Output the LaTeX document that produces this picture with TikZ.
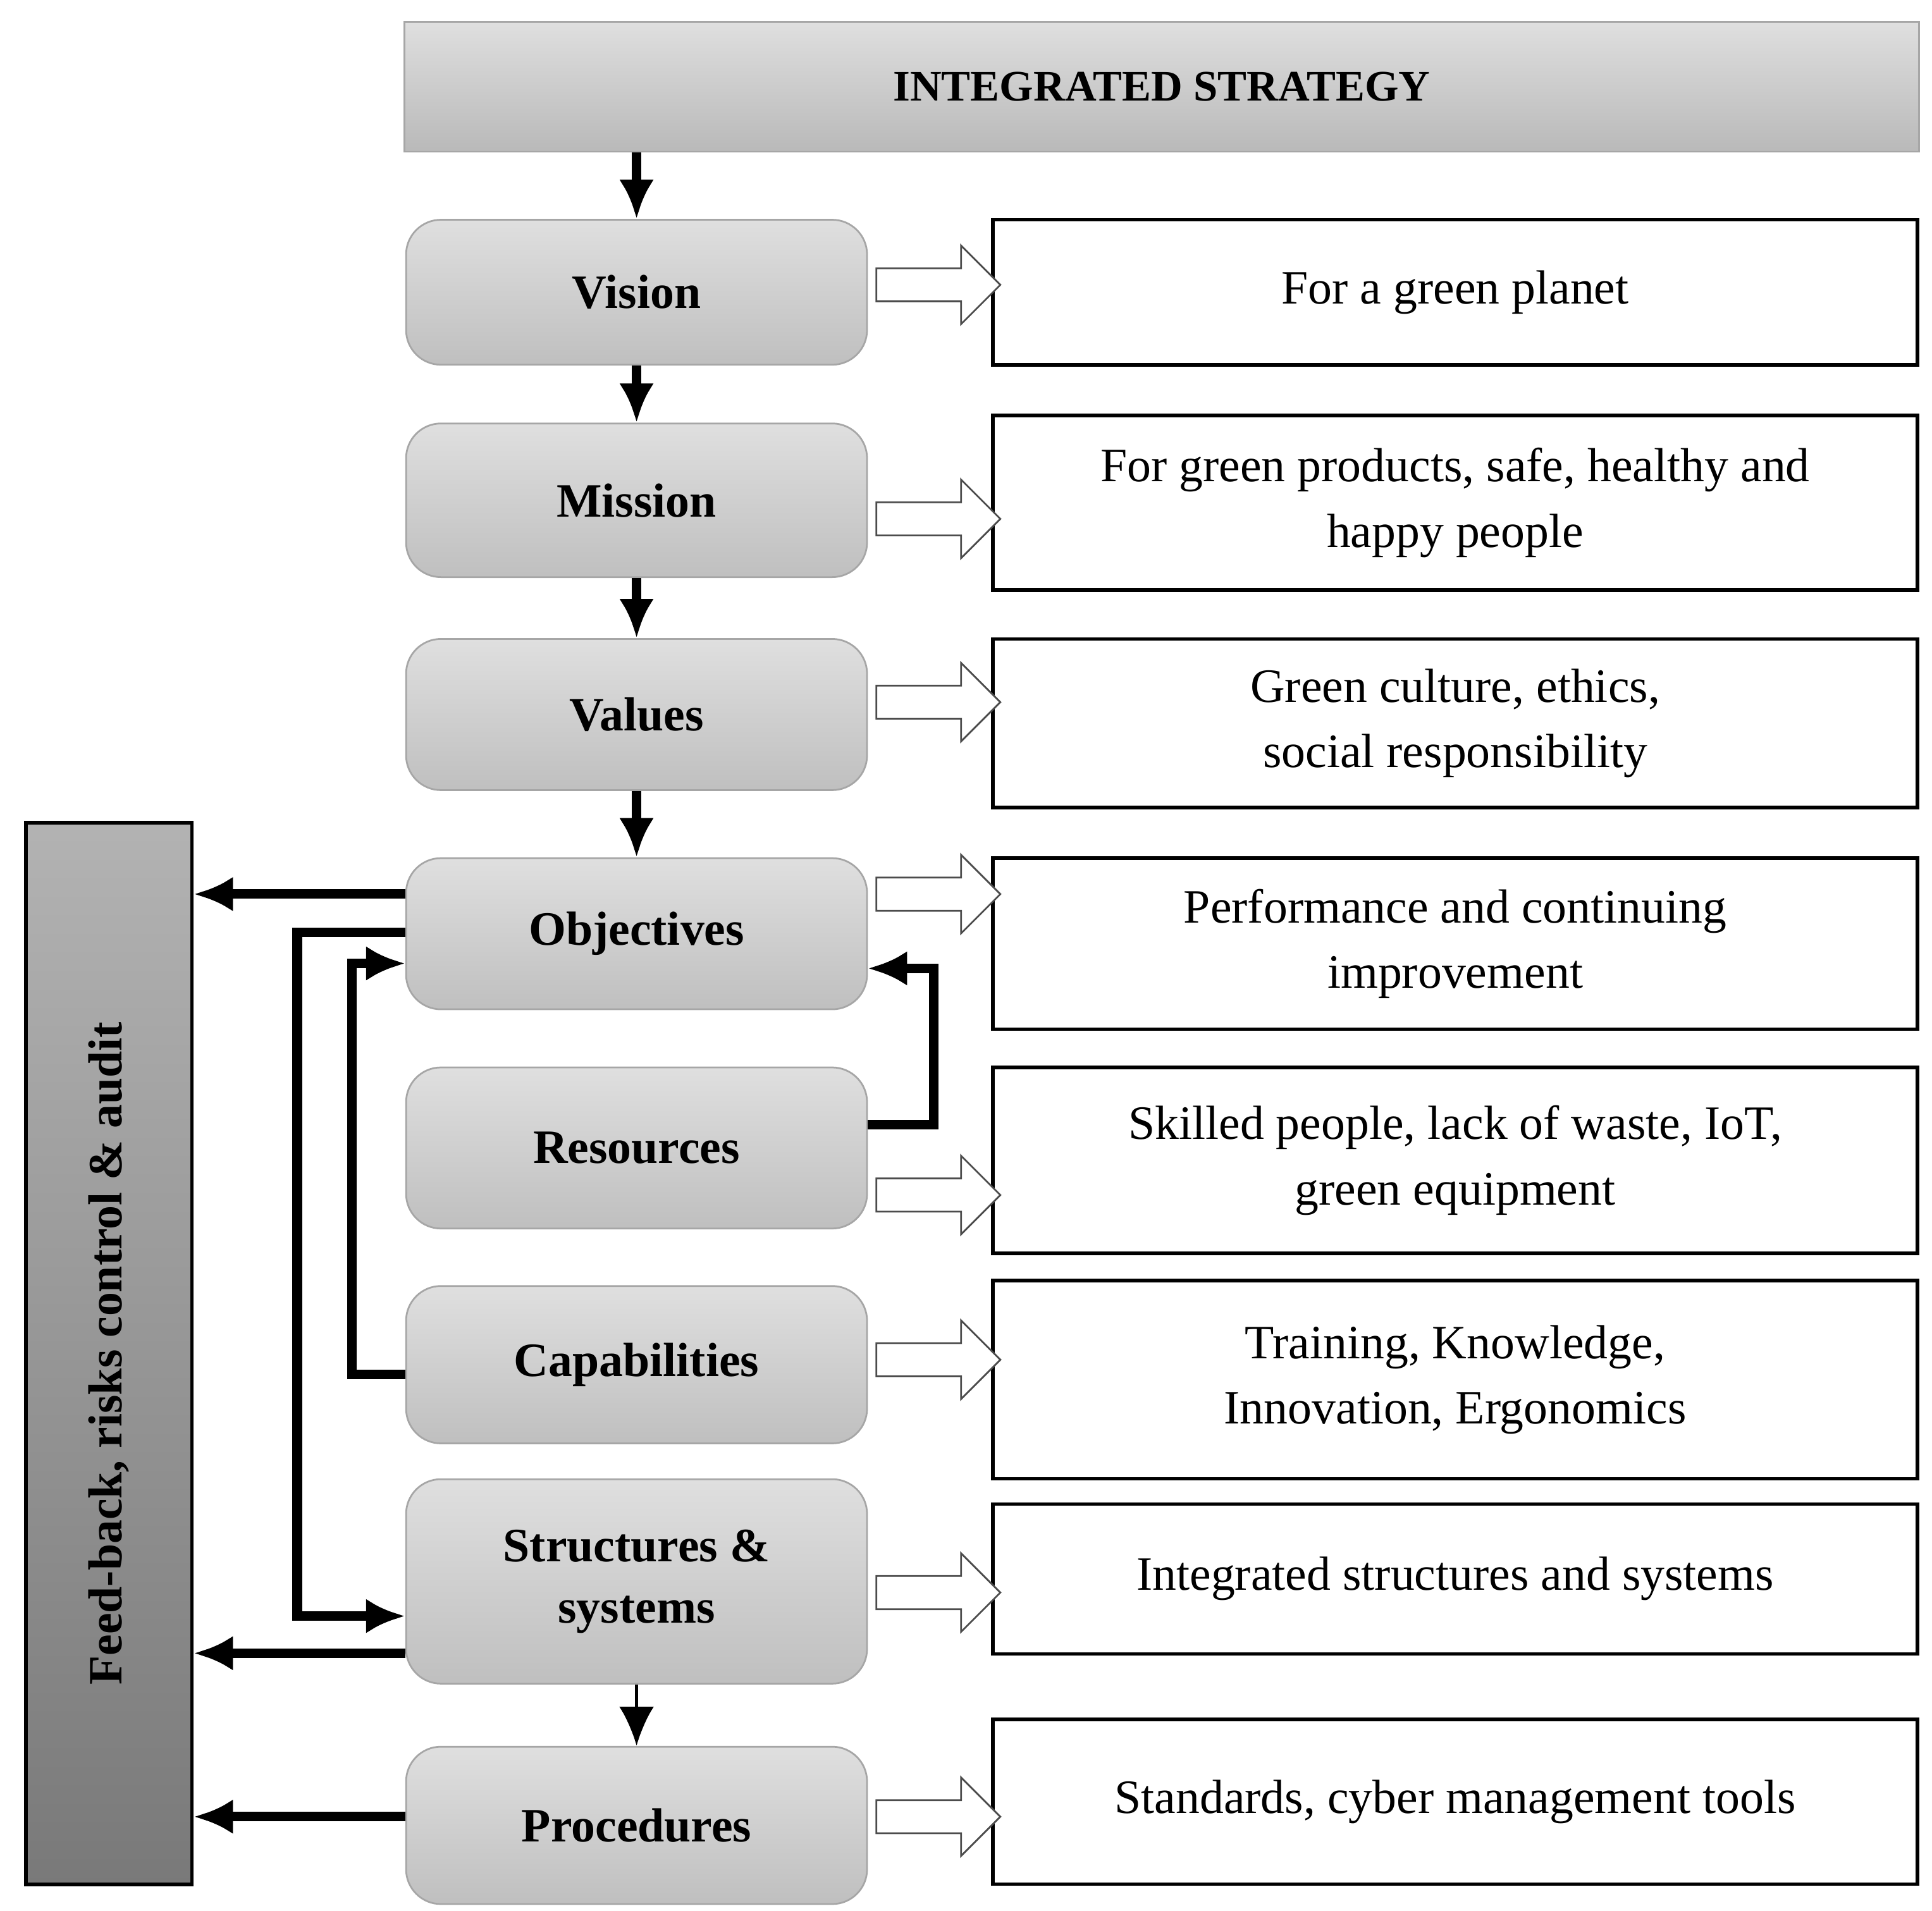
\documentclass[tikz,border=0pt]{standalone}
\usepackage{fontspec}
\setmainfont{Liberation Serif}
\usetikzlibrary{arrows.meta,shapes.arrows}

\begin{document}
\begin{tikzpicture}[x=0.01cm,y=-0.01cm,>={Latex[length=9pt,width=8pt]}, line width=2.2pt,
step/.style ={rectangle, draw=gray!70, thin, top color=gray!25, bottom color=gray!50, align=center, rounded corners=8pt, minimum height=#1, minimum width=3.72cm, font=\fontsize{11}{14}\selectfont\bfseries},
desc/.style ={rectangle, draw=black, thick, fill=white, align=center, minimum height=#1, minimum width=7.46cm, font=\fontsize{11}{15}\selectfont},
big/.style ={single arrow, draw=black!70, thin, fill=white, minimum height=1.0cm, minimum width=18pt, single arrow head extend=3pt, inner sep=2pt, outer sep=0pt}]
\useasboundingbox (0,0) rectangle (1560,1543);

\node[rectangle, draw=gray!70, thin, top color=gray!25, bottom color=gray!55, minimum width=12.22cm, minimum height=1.05cm, font=\fontsize{10}{12}\selectfont\bfseries] (Str) at (938,70) {INTEGRATED STRATEGY};
\node[rectangle, draw=black, thick, top color=gray!60, bottom color=gray!95!black, minimum width=1.34cm, minimum height=8.57cm] (Fb) at (88,1093) {};
\node[rotate=90, font=\fontsize{11}{14}\selectfont\bfseries] at (Fb) {Feed-back, risks control \& audit};

% left column
\node[step=1.17cm] (Vis) at (514,236) {Vision};
\node[step=1.24cm] (Mis) at (514,404) {Mission};
\node[step=1.22cm] (Val) at (514,577) {Values};
\node[step=1.22cm] (Obj) at (514,754) {Objectives};
\node[step=1.30cm] (Res) at (514,927) {Resources};
\node[step=1.27cm] (Cap) at (514,1102) {Capabilities};
\node[step=1.65cm] (Sys) at (514,1277) {Structures \&\\ systems};
\node[step=1.27cm] (Proc) at (514,1474) {Procedures};

% right column
\node[desc=1.17cm] (dVis) at (1175,236) {For a green planet};
\node[desc=1.41cm] (dMis) at (1175,406) {For green products, safe, healthy and\\ happy people};
\node[desc=1.36cm] (dVal) at (1175,584) {Green culture, ethics,\\ social responsibility};
\node[desc=1.38cm] (dObj) at (1175,762) {Performance and continuing\\ improvement};
\node[desc=1.50cm] (dRes) at (1175,937) {Skilled people, lack of waste, IoT,\\ green equipment};
\node[desc=1.60cm] (dCap) at (1175,1114) {Training, Knowledge,\\ Innovation, Ergonomics};
\node[desc=1.21cm] (dSys) at (1175,1275) {Integrated structures and systems};
\node[desc=1.33cm] (dProc) at (1175,1455) {Standards, cyber management tools};

% hollow arrows
\foreach \n/\y in {a/230,b/419,c/567,d/722,e/965,f/1098,g/1286,h/1467}
  \node[big] (A\n) at (751,\y) {};

% down arrows
\draw[->] (Str.south -| Vis) -- (Vis);
\draw[->] (Vis) -- (Mis);
\draw[->] (Mis) -- (Val);
\draw[->] (Val) -- (Obj);
\draw[->, thick] (Sys) -- (Proc);

% feedback
\draw[->] (Obj.west |- 0,722) -- (Fb.east |- 0,722);
\draw[->] (Sys.west |- 0,1335) -- (Fb.east |- 0,1335);
\draw[->] (Proc.west |- 0,1467) -- (Fb.east |- 0,1467);

% loops
\draw[->] (Obj.west |- 0,753) -- (240,753) -- (240,1305) -- (Sys.west |- 0,1305);
\draw[->] (Cap.west |- 0,1110) -- (284,1110) -- (284,778) -- (Obj.west |- 0,778);
\draw[->] (Res.east |- 0,908) -- (754,908) -- (754,782) -- (Obj.east |- 0,782);
\end{tikzpicture}
\end{document}
